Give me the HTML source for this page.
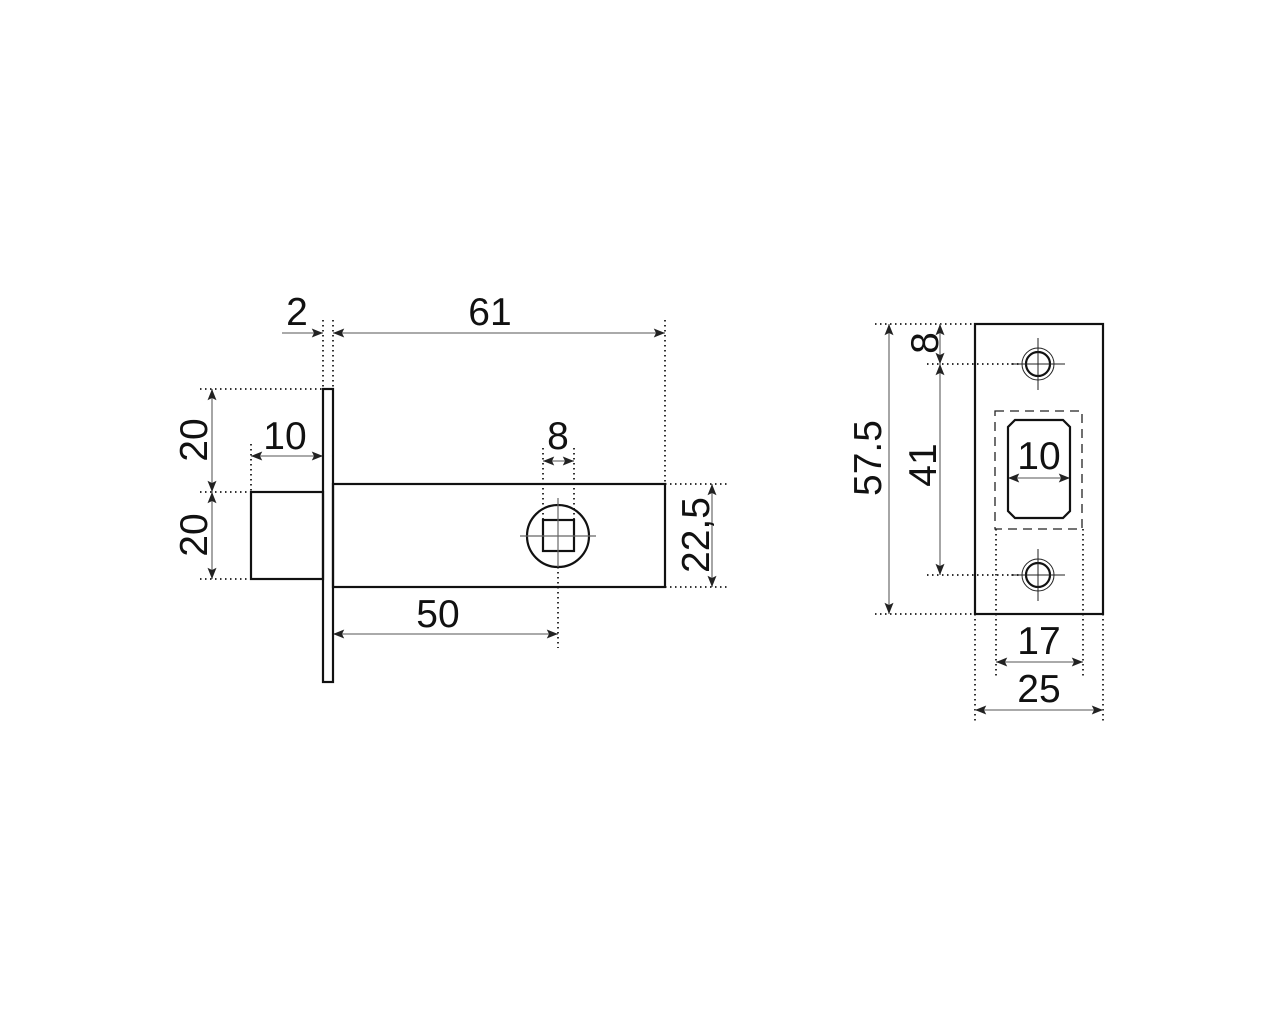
<!DOCTYPE html>
<html><head><meta charset="utf-8"><style>
html,body{margin:0;padding:0;background:#fff;}
svg{display:block;}
text{font-family:"Liberation Sans",Arial,sans-serif;font-size:39px;fill:#111;}
</style></head><body>
<svg width="1280" height="1024" viewBox="0 0 1280 1024" xmlns="http://www.w3.org/2000/svg">
<defs>
<marker id="a" viewBox="0 0 10 8" refX="10" refY="4" markerWidth="12" markerHeight="9" markerUnits="userSpaceOnUse" orient="auto-start-reverse">
<path d="M0,0 L10,4 L0,8 L2,4 Z" fill="#222"/>
</marker>
</defs>
<g fill="none" stroke="#333" stroke-width="2" stroke-dasharray="1.5 3.5">
<line x1="323" y1="320" x2="323" y2="389"/>
<line x1="333" y1="320" x2="333" y2="389"/>
<line x1="665" y1="320" x2="665" y2="484"/>
<line x1="200" y1="389" x2="323" y2="389"/>
<line x1="200" y1="492" x2="251" y2="492"/>
<line x1="200" y1="579" x2="251" y2="579"/>
<line x1="251" y1="444" x2="251" y2="492"/>
<line x1="543" y1="448" x2="543" y2="520"/>
<line x1="574" y1="448" x2="574" y2="520"/>
<line x1="665" y1="484" x2="727" y2="484"/>
<line x1="665" y1="587" x2="727" y2="587"/>
<line x1="558" y1="567" x2="558" y2="648"/>
<line x1="875" y1="324" x2="975" y2="324"/>
<line x1="875" y1="614" x2="975" y2="614"/>
<line x1="927" y1="364" x2="1020" y2="364"/>
<line x1="927" y1="575" x2="1020" y2="575"/>
<line x1="975" y1="614" x2="975" y2="724"/>
<line x1="1103" y1="614" x2="1103" y2="724"/>
<line x1="996" y1="529" x2="996" y2="676"/>
<line x1="1083" y1="529" x2="1083" y2="676"/>
</g>
<g stroke="#777" stroke-width="1.3" fill="none">
<line x1="282" y1="333" x2="323" y2="333" marker-end="url(#a)"/>
<line x1="333" y1="333" x2="665" y2="333" marker-start="url(#a)" marker-end="url(#a)"/>
<line x1="212" y1="389" x2="212" y2="492" marker-start="url(#a)" marker-end="url(#a)"/>
<line x1="212" y1="492" x2="212" y2="579" marker-start="url(#a)" marker-end="url(#a)"/>
<line x1="251" y1="456" x2="323" y2="456" marker-start="url(#a)" marker-end="url(#a)"/>
<line x1="543" y1="461" x2="574" y2="461" marker-start="url(#a)" marker-end="url(#a)"/>
<line x1="712" y1="484" x2="712" y2="587" marker-start="url(#a)" marker-end="url(#a)"/>
<line x1="333" y1="634" x2="558" y2="634" marker-start="url(#a)" marker-end="url(#a)"/>
<line x1="889" y1="324" x2="889" y2="614" marker-start="url(#a)" marker-end="url(#a)"/>
<line x1="940" y1="324" x2="940" y2="364" marker-start="url(#a)" marker-end="url(#a)"/>
<line x1="940" y1="364" x2="940" y2="575" marker-start="url(#a)" marker-end="url(#a)"/>
<line x1="1008" y1="478" x2="1070" y2="478" marker-start="url(#a)" marker-end="url(#a)"/>
<line x1="996" y1="662" x2="1083" y2="662" marker-start="url(#a)" marker-end="url(#a)"/>
<line x1="975" y1="710" x2="1103" y2="710" marker-start="url(#a)" marker-end="url(#a)"/>
</g>
<g stroke="#111" stroke-width="2.2" fill="none">
<rect x="323" y="389" width="10" height="293"/>
<rect x="251" y="492" width="72" height="87"/>
<rect x="333" y="484" width="332" height="103"/>
<circle cx="558" cy="536" r="31"/>
<rect x="543" y="520" width="31" height="31"/>
<rect x="975" y="324" width="128" height="290"/>
<circle cx="1038" cy="364" r="12"/>
<circle cx="1038" cy="575" r="12"/>
<path d="M1015,420 L1063,420 L1070,427 L1070,511 L1063,518 L1015,518 L1008,511 L1008,427 Z"/>
</g>
<g stroke="#222" stroke-width="1" fill="none">
<circle cx="1038" cy="364" r="16"/>
<circle cx="1038" cy="575" r="16"/>
<line x1="1011" y1="364" x2="1065" y2="364"/>
<line x1="1038" y1="338" x2="1038" y2="390"/>
<line x1="1011" y1="575" x2="1065" y2="575"/>
<line x1="1038" y1="549" x2="1038" y2="601"/>
<rect x="995" y="411" width="87" height="118" stroke-dasharray="9 6" stroke-width="1.3"/>
</g>
<g stroke="#666" stroke-width="1.2">
<line x1="520" y1="536" x2="596" y2="536"/>
<line x1="558" y1="498" x2="558" y2="567"/>
</g>
<g text-anchor="middle">
<text x="297" y="325">2</text>
<text x="490" y="325">61</text>
<text x="285" y="449">10</text>
<text x="558" y="449">8</text>
<text x="438" y="627">50</text>
<text x="1039" y="469">10</text>
<text x="1039" y="654">17</text>
<text x="1039" y="702">25</text>
<text transform="translate(207,440) rotate(-90)">20</text>
<text transform="translate(207,535) rotate(-90)">20</text>
<text transform="translate(709,535) rotate(-90)">22,5</text>
<text transform="translate(881,458) rotate(-90)">57.5</text>
<text transform="translate(938,343) rotate(-90)">8</text>
<text transform="translate(936,465) rotate(-90)">41</text>
</g>
</svg>
</body></html>
